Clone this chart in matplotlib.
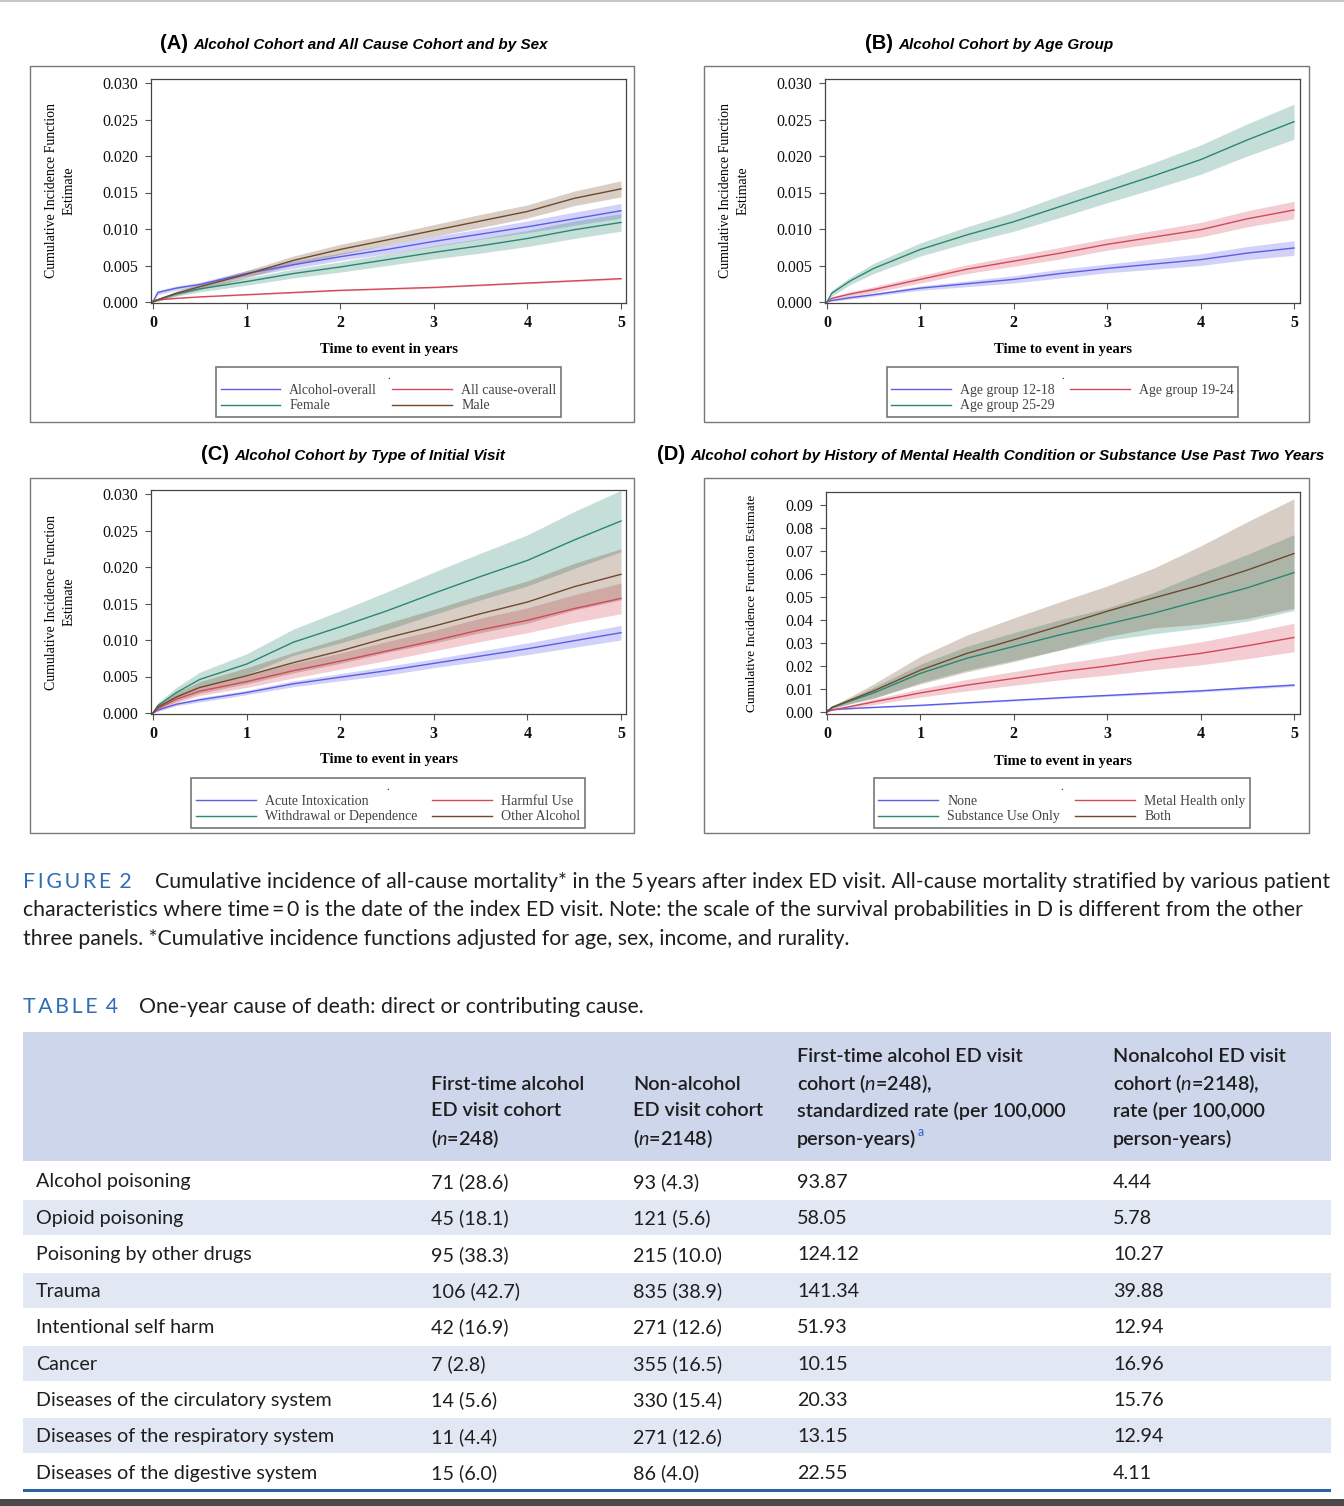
import matplotlib
matplotlib.use('Agg')
import matplotlib.pyplot as plt
from matplotlib.patches import Rectangle
import numpy as np

# ---- data ----
T = [0, 0.05, 0.25, 0.5, 1, 1.5, 2, 2.5, 3, 3.5, 4, 4.5, 5]

# (A) by sex
a_alcohol = [0, 0.0013, 0.0019, 0.0024, 0.0039, 0.0051, 0.0062, 0.0072, 0.0083, 0.0093, 0.0103, 0.0114, 0.0125]
a_alcohol_ci = [0, 0.0003, 0.0003, 0.0003, 0.0004, 0.0005, 0.0005, 0.0006, 0.0007, 0.0007, 0.0008, 0.0009, 0.0010]
a_allcause = [0.0002, 0.0003, 0.0005, 0.0007, 0.0010, 0.0013, 0.0016, 0.0018, 0.0020, 0.0023, 0.0026, 0.0029, 0.0032]
a_allcause_ci = [0, 0.00005, 0.00005, 0.00005, 0.00008, 0.0001, 0.0001, 0.0001, 0.0001, 0.0001, 0.0001, 0.00012, 0.00012]
a_female = [0, 0.0003, 0.0011, 0.0018, 0.0028, 0.0039, 0.0048, 0.0058, 0.0068, 0.0077, 0.0087, 0.0099, 0.0109]
a_female_ci = [0, 0.0002, 0.0003, 0.0004, 0.0005, 0.0006, 0.0007, 0.0008, 0.0009, 0.0010, 0.0011, 0.0012, 0.0012]
a_male = [0, 0.0003, 0.0012, 0.0021, 0.0038, 0.0057, 0.0072, 0.0085, 0.0098, 0.0111, 0.0124, 0.0142, 0.0155]
a_male_ci = [0, 0.0002, 0.0003, 0.0004, 0.0005, 0.0006, 0.0007, 0.0007, 0.0008, 0.0009, 0.0009, 0.0010, 0.0011]

# (B) by age group
b_12_18 = [0, 0.0002, 0.0006, 0.0010, 0.0019, 0.0025, 0.0031, 0.0039, 0.0046, 0.0052, 0.0058, 0.0067, 0.0074]
b_12_18_ci = [0, 0.0001, 0.0002, 0.0002, 0.0003, 0.0004, 0.0005, 0.0006, 0.0006, 0.0007, 0.0008, 0.0009, 0.0010]
b_19_24 = [0, 0.0005, 0.0011, 0.0017, 0.0031, 0.0045, 0.0056, 0.0067, 0.0079, 0.0089, 0.0099, 0.0114, 0.0126]
b_19_24_ci = [0, 0.0002, 0.0003, 0.0004, 0.0005, 0.0006, 0.0007, 0.0008, 0.0008, 0.0009, 0.0010, 0.0011, 0.0012]
b_25_29 = [0, 0.0012, 0.0029, 0.0046, 0.0072, 0.0092, 0.0110, 0.0131, 0.0152, 0.0173, 0.0195, 0.0222, 0.0247]
b_25_29_ci = [0, 0.0004, 0.0005, 0.0007, 0.0009, 0.0011, 0.0013, 0.0015, 0.0016, 0.0018, 0.0020, 0.0022, 0.0024]

# (C) by type of initial visit
c_acute = [0, 0.0004, 0.0012, 0.0018, 0.0028, 0.0040, 0.0049, 0.0058, 0.0068, 0.0078, 0.0088, 0.0099, 0.0110]
c_acute_ci = [0, 0.0002, 0.0002, 0.0003, 0.0003, 0.0004, 0.0005, 0.0006, 0.0006, 0.0007, 0.0008, 0.0009, 0.0010]
c_harmful = [0, 0.0006, 0.0019, 0.0030, 0.0043, 0.0058, 0.0071, 0.0085, 0.0099, 0.0114, 0.0127, 0.0143, 0.0157]
c_harmful_ci = [0, 0.0003, 0.0005, 0.0006, 0.0008, 0.0010, 0.0011, 0.0013, 0.0014, 0.0016, 0.0017, 0.0019, 0.0021]
c_withdrawal = [0, 0.0010, 0.0028, 0.0046, 0.0067, 0.0097, 0.0118, 0.0140, 0.0164, 0.0187, 0.0209, 0.0237, 0.0263]
c_withdrawal_ci = [0, 0.0004, 0.0007, 0.0010, 0.0014, 0.0018, 0.0022, 0.0026, 0.0029, 0.0032, 0.0035, 0.0039, 0.0042]
c_other = [0, 0.0008, 0.0022, 0.0035, 0.0051, 0.0069, 0.0085, 0.0103, 0.0119, 0.0136, 0.0152, 0.0173, 0.0190]
c_other_ci = [0, 0.0003, 0.0006, 0.0008, 0.0011, 0.0014, 0.0017, 0.0020, 0.0023, 0.0026, 0.0029, 0.0032, 0.0035]

# (D) by mental health / substance use history
d_none = [0.0008, 0.0010, 0.0015, 0.0020, 0.0029, 0.0040, 0.0051, 0.0062, 0.0072, 0.0082, 0.0092, 0.0105, 0.0117]
d_none_ci = [0, 0.0001, 0.0002, 0.0002, 0.0003, 0.0003, 0.0004, 0.0004, 0.0004, 0.0005, 0.0005, 0.0006, 0.0006]
d_mental = [0, 0.0008, 0.0024, 0.0044, 0.0083, 0.0117, 0.0146, 0.0175, 0.0200, 0.0229, 0.0255, 0.0288, 0.0324]
d_mental_ci = [0, 0.0002, 0.0006, 0.0012, 0.0018, 0.0025, 0.0030, 0.0035, 0.0040, 0.0045, 0.0050, 0.0056, 0.0062]
d_substance = [0, 0.0018, 0.0048, 0.0083, 0.0168, 0.0234, 0.0285, 0.0336, 0.0382, 0.0430, 0.0485, 0.0540, 0.0606]
d_substance_ci = [0, 0.0004, 0.0012, 0.0025, 0.0040, 0.0052, 0.0060, 0.0066, 0.0070, 0.0090, 0.0120, 0.0145, 0.0165]
d_both = [0, 0.0020, 0.0052, 0.0092, 0.0182, 0.0255, 0.0314, 0.0375, 0.0438, 0.0496, 0.0552, 0.0617, 0.0689]
d_both_ci = [0, 0.0005, 0.0015, 0.0030, 0.0060, 0.0080, 0.0095, 0.0105, 0.0110, 0.0130, 0.0170, 0.0210, 0.0238]

# table 4
causes = ['Alcohol poisoning', 'Opioid poisoning', 'Poisoning by other drugs', 'Trauma',
          'Intentional self harm', 'Cancer', 'Diseases of the circulatory system',
          'Diseases of the respiratory system', 'Diseases of the digestive system']
alc_count = [71, 45, 95, 106, 42, 7, 14, 11, 15]
alc_pct = [28.6, 18.1, 38.3, 42.7, 16.9, 2.8, 5.6, 4.4, 6.0]
non_count = [93, 121, 215, 835, 271, 355, 330, 271, 86]
non_pct = [4.3, 5.6, 10.0, 38.9, 12.6, 16.5, 15.4, 12.6, 4.0]
alc_rate = [93.87, 58.05, 124.12, 141.34, 51.93, 10.15, 20.33, 13.15, 22.55]
non_rate = [4.44, 5.78, 10.27, 39.88, 12.94, 16.96, 15.76, 12.94, 4.11]

BLUE, RED, TEAL, BROWN = '#5c5ce8', '#d4485c', '#2a8771', '#6f4a2a'

W, H = 1344, 1506
plt.rcParams['font.family'] = 'Liberation Serif'
plt.rcParams['mathtext.fontset'] = 'custom'
plt.rcParams['mathtext.it'] = 'Lato:italic'
plt.rcParams['mathtext.rm'] = 'Lato'

fig = plt.figure(figsize=(W / 100, H / 100), dpi=100)


def fx(x):
    return x / W


def fy(y):
    return 1 - y / H


def box(x0, y0, x1, y1, **kw):
    fig.add_artist(Rectangle((fx(x0), fy(y1)), (x1 - x0) / W, (y1 - y0) / H,
                             transform=fig.transFigure, **kw))


def panel(frame, x0, x5, ytp, y0p, ytop, yticks, yfmt, series, order, leg_box, ylab, ylab_x, ylab_fs):
    fl, ft, fr, fb = frame
    ax = fig.add_axes([fx(fl), fy(fb), (fr - fl) / W, (fb - ft) / H])
    sx = (x5 - x0) / 5
    ax.set_xlim((fl - x0) / sx, 5 + (fr - x5) / sx)
    sy = (y0p - ytp) / ytop
    ax.set_ylim(-(fb - y0p) / sy, ytop + (ytp - ft) / sy)
    lines = []
    for name, y, ci, col in series:
        y = np.array(y)
        ci = np.array(ci)
        ax.fill_between(T, np.clip(y - ci, 0, None), y + ci, color=col, alpha=0.27, lw=0)
    for name, y, ci, col in series:
        ln, = ax.plot(T, y, color=col, lw=1.0, label=name)
        lines.append(ln)
    ax.set_xticks(range(6), labels=[str(i) for i in range(6)], fontweight='bold')
    ax.set_yticks(yticks, labels=[yfmt.format(v) for v in yticks])
    ax.tick_params(direction='out', length=4.5, width=0.8, color='#555', labelsize=11.5, labelcolor='#111')
    ax.tick_params(axis='x', pad=4)
    ax.tick_params(axis='y', pad=5)
    for s in ax.spines.values():
        s.set_color('#444')
        s.set_linewidth(0.9)
    ax.set_xlabel('Time to event in years', fontsize=10.5, fontweight='bold', va='center')
    ax.xaxis.set_label_coords(0.5, (fb - (ft + 270)) / (fb - ft))
    ax.set_ylabel(ylab, fontsize=ylab_fs, linespacing=1.45, va='center')
    ax.yaxis.set_label_coords((ylab_x - fl) / (fr - fl), 0.5)
    lx0, ly0, lx1, ly1 = leg_box
    leg = ax.legend([lines[i] for i in order], [lines[i].get_label() for i in order],
                    ncol=2, loc='upper center', bbox_to_anchor=(fx((lx0 + lx1) / 2), fy(ly0)),
                    bbox_transform=fig.transFigure, fancybox=False, edgecolor='#555',
                    fontsize=10, handlelength=4.3, handletextpad=0.65, columnspacing=1.1,
                    labelspacing=0.2, borderpad=0.35, borderaxespad=0, title='.',
                    title_fontsize=7.5, labelcolor='#444')
    leg.get_frame().set_linewidth(1.2)
    return ax


def title(xr, yb, tag, text):
    fig.text(fx(xr), fy(yb), tag, ha='right', va='baseline', fontsize=14.5,
             fontweight='bold', family='Liberation Sans')
    fig.text(fx(xr + 5), fy(yb), text, ha='left', va='baseline', fontsize=11,
             fontweight='bold', fontstyle='italic', family='Liberation Sans')


ylab2 = 'Cumulative Incidence Function\nEstimate'
yt3 = [0, 0.005, 0.010, 0.015, 0.020, 0.025, 0.030]

# panel boxes
for bx in [(30, 66, 634, 422), (704, 66, 1309, 422), (30, 478, 634, 833), (704, 478, 1309, 833)]:
    box(*bx, fill=False, edgecolor='#777', lw=1.0)

title(188, 49, '(A)', 'Alcohol Cohort and All Cause Cohort and by Sex')
panel((151, 79, 626, 303), 153, 621, 83, 302, 0.030, yt3, '{:.3f}',
      [('Alcohol-overall', a_alcohol, a_alcohol_ci, BLUE),
       ('All cause-overall', a_allcause, a_allcause_ci, RED),
       ('Female', a_female, a_female_ci, TEAL),
       ('Male', a_male, a_male_ci, BROWN)],
      [0, 2, 1, 3], (216, 367, 561, 413), ylab2, 60, 10)

title(893, 49, '(B)', 'Alcohol Cohort by Age Group')
panel((825, 79, 1300, 303), 827, 1294, 83, 302, 0.030, yt3, '{:.3f}',
      [('Age group 12-18', b_12_18, b_12_18_ci, BLUE),
       ('Age group 19-24', b_19_24, b_19_24_ci, RED),
       ('Age group 25-29', b_25_29, b_25_29_ci, TEAL)],
      [0, 2, 1], (884, 367, 1241, 413), ylab2, 734, 10)

title(229, 460, '(C)', 'Alcohol Cohort by Type of Initial Visit')
panel((151, 490, 626, 714), 153, 621, 494, 713, 0.030, yt3, '{:.3f}',
      [('Acute Intoxication', c_acute, c_acute_ci, BLUE),
       ('Harmful Use', c_harmful, c_harmful_ci, RED),
       ('Withdrawal or Dependence', c_withdrawal, c_withdrawal_ci, TEAL),
       ('Other Alcohol', c_other, c_other_ci, BROWN)],
      [0, 2, 1, 3], (186, 778, 590, 825), ylab2, 60, 10)

title(685, 460, '(D)', 'Alcohol cohort by History of Mental Health Condition or Substance Use Past Two Years')
panel((826, 492, 1300, 714), 827, 1294, 505, 712, 0.09,
      [0, 0.01, 0.02, 0.03, 0.04, 0.05, 0.06, 0.07, 0.08, 0.09], '{:.2f}',
      [('None', d_none, d_none_ci, BLUE),
       ('Metal Health only', d_mental, d_mental_ci, RED),
       ('Substance Use Only', d_substance, d_substance_ci, TEAL),
       ('Both', d_both, d_both_ci, BROWN)],
      [0, 2, 1, 3], (870, 778, 1254, 825), 'Cumulative Incidence Function Estimate', 752, 9.5)

# ---- caption ----
SANS = ['Lato', 'DejaVu Sans']
CAP_BLUE = '#2f6db5'
fig.text(fx(23), fy(882), 'F\u2009I\u2009G\u2009U\u2009R\u2009E\u2009 2', color=CAP_BLUE, fontsize=15.3,
         family=SANS, va='center')
cap_lines = [
    (155, 882, 'Cumulative incidence of all-cause mortality* in the 5\u2009years after index ED visit. '
               'All-cause mortality stratified by various patient'),
    (23, 910, 'characteristics where time\u2009=\u20090 is the date of the index ED visit. Note: the scale of the '
              'survival probabilities in D is different from the other'),
    (23, 939, 'three panels. *Cumulative incidence functions adjusted for age, sex, income, and rurality.'),
]
for x, y, s in cap_lines:
    fig.text(fx(x), fy(y), s, fontsize=15.3, family=SANS, va='center', color='#1e1e1e')

fig.text(fx(23), fy(1007), 'T\u2009A\u2009B\u2009L\u2009E\u2009 4', color=CAP_BLUE, fontsize=15.3,
         family=SANS, va='center')
fig.text(fx(139), fy(1007), 'One-year cause of death: direct or contributing cause.', fontsize=15.3,
         family=SANS, va='center', color='#1e1e1e')

# ---- table ----
TX0, TX1 = 23, 1331
box(TX0, 1032, TX1, 1161, facecolor='#cdd6ea', lw=0)
col_x = [36, 431, 633, 797, 1113]
hdr_y = [1057, 1084, 1111, 1139]
headers = [
    ['First-time alcohol', 'ED visit cohort', '($n$=248)'],
    ['Non-alcohol', 'ED visit cohort', '($n$=2148)'],
    ['First-time alcohol ED visit', 'cohort ($n$=248),', 'standardized rate (per 100,000', 'person-years)'],
    ['Nonalcohol ED visit', 'cohort ($n$=2148),', 'rate (per 100,000', 'person-years)'],
]
renderer = fig.canvas.get_renderer()
for j, hd in enumerate(headers):
    ys = hdr_y[-len(hd):]
    for s, y in zip(hd, ys):
        t = fig.text(fx(col_x[j + 1]), fy(y), s, fontsize=14.2, family=SANS, fontweight='semibold',
                     va='center', color='#1e1e1e')
    if j == 2:
        bb = t.get_window_extent(renderer=renderer)
        fig.text(bb.x1 / W + 1 / W, fy(1132), 'a', fontsize=9, family=SANS, color='#2f5fd0', va='center')

row_y0, row_h = 1181, 36.4
for i, c in enumerate(causes):
    yc = row_y0 + i * row_h
    if i % 2 == 1:
        box(TX0, yc - row_h / 2 + 0.7, TX1, yc + row_h / 2 - 0.7, facecolor='#e1e7f3', lw=0)
    cells = [c, f'{alc_count[i]} ({alc_pct[i]:.1f})', f'{non_count[i]} ({non_pct[i]:.1f})',
             f'{alc_rate[i]:.2f}', f'{non_rate[i]:.2f}']
    for x, s in zip(col_x, cells):
        fig.text(fx(x), fy(yc + 1), s, fontsize=14.2, family=SANS, va='center', color='#1e1e1e')

box(TX0, 1489, TX1, 1492, facecolor='#2b63a6', lw=0)
box(0, 1499, W, H, facecolor='#4a4a4a', lw=0)
box(0, 0, W, 2, facecolor='#c8c8c8', lw=0)

fig.savefig('out.png', dpi=100)
